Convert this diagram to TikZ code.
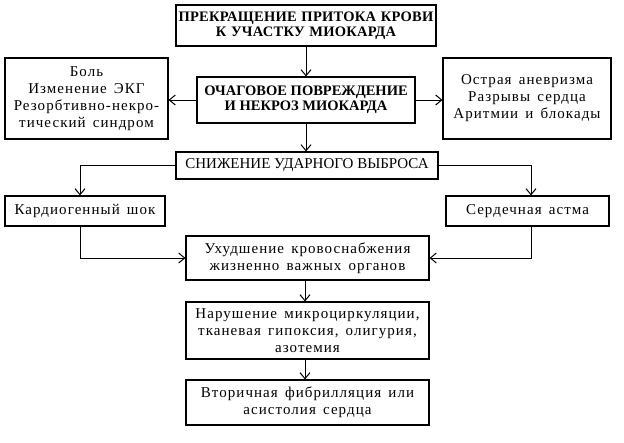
\documentclass[tikz,border=0pt]{standalone}
\usepackage{fontspec}
\setmainfont{Liberation Serif}
\newfontfamily\spaced[LetterSpace=7,WordSpace=1.5]{Liberation Serif}
\newfontfamily\spacedhead[LetterSpace=1.8,WordSpace=1.2]{Liberation Serif}
\usetikzlibrary{arrows.meta}
\tikzset{
  box/.style={draw, line width=1.1pt, inner sep=0pt, align=center, font=\spaced\fontsize{15}{17}\selectfont},
  cbox/.style={box, font=\fontsize{15}{17}\selectfont},
  hbox/.style={box, font=\fontsize{14.5}{15}\selectfont\bfseries},
  tbox/.style={box, font=\spacedhead\fontsize{14.5}{15}\selectfont\bfseries},
  arr/.style={line width=1pt, -{Straight Barb[length=6pt,width=10pt,line width=1pt]}},
}
\begin{document}
\begin{tikzpicture}[x=1pt,y=-1pt]
\path[use as bounding box] (0,0) rectangle (624,442);
\node[tbox, minimum width=260pt, minimum height=41pt] (top) at (306,25.5) {ПРЕКРАЩЕНИЕ ПРИТОКА КРОВИ\\К УЧАСТКУ МИОКАРДА};
\node[hbox, minimum width=218pt, minimum height=46pt] (mid) at (306,100) {ОЧАГОВОЕ ПОВРЕЖДЕНИЕ\\И НЕКРОЗ МИОКАРДА};
\node[box, minimum width=163pt, minimum height=81pt] (left) at (86.5,98.5) {Боль\\Изменение ЭКГ\\Резорбтивно-некро-\\тический синдром};
\node[box, minimum width=168pt, minimum height=81pt] (right) at (527,98.5) {Острая аневризма\\Разрывы сердца\\Аритмии и блокады};
\node[cbox, minimum width=262pt, minimum height=27pt] (sniz) at (307,165.5) {СНИЖЕНИЕ УДАРНОГО ВЫБРОСА};
\node[box, minimum width=160pt, minimum height=30pt] (kard) at (85,211) {Кардиогенный шок};
\node[box, minimum width=163pt, minimum height=30pt] (serd) at (527.5,211) {Сердечная астма};
\node[box, minimum width=243pt, minimum height=44pt] (uhud) at (307.5,258) {Ухудшение кровоснабжения\\жизненно важных органов};
\node[box, minimum width=243pt, minimum height=57pt] (nar) at (307.5,330.5) {Нарушение микроциркуляции,\\тканевая гипоксия, олигурия,\\азотемия};
\node[box, minimum width=243pt, minimum height=45pt] (vtor) at (307.5,402.5) {Вторичная фибрилляция или\\асистолия сердца};
\draw[arr] (top.south) -- (top.south |- mid.north);
\draw[arr] (mid.west) -- (mid.west -| left.east);
\draw[arr] (mid.east) -- (mid.east -| right.west);
\draw[arr] (mid.south) -- (mid.south |- sniz.north);
\draw[arr] (sniz.west) -| ([xshift=-5pt]kard.north);
\draw[arr] (sniz.east) -| ([xshift=3.5pt]serd.north);
\draw[arr] ([xshift=-5pt]kard.south) |- (uhud.west);
\draw[arr] ([xshift=3.5pt]serd.south) |- (uhud.east);
\draw[arr] ([xshift=-2.5pt]uhud.south) -- ([xshift=-2.5pt]nar.north);
\draw[arr] ([xshift=-2.5pt]nar.south) -- ([xshift=-2.5pt]vtor.north);
\end{tikzpicture}
\end{document}
